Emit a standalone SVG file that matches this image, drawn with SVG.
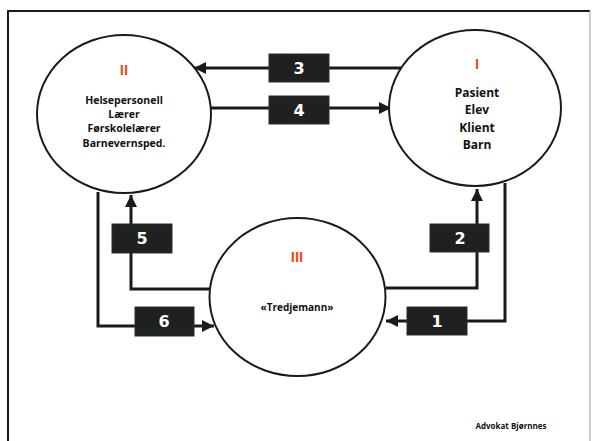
<svg xmlns="http://www.w3.org/2000/svg" width="592" height="441" viewBox="0 0 592 441">
<defs>
<style>
.circ{fill:#fff;stroke:#1a1a1a;stroke-width:2}
.con{fill:none;stroke:#1a1a1a;stroke-width:3}
.box{fill:#1f2120;stroke:#2c2e2d;stroke-width:1}
.num{font-family:"DejaVu Sans",sans-serif;font-weight:bold;font-size:16px;fill:#fff;text-anchor:middle}
.rom{font-family:"Liberation Sans",sans-serif;font-weight:bold;font-size:15px;fill:#e4531c;text-anchor:middle}
.lbl{font-family:"Open Sans",sans-serif;font-weight:bold;fill:#111;text-anchor:middle}
</style>
<marker id="ah" viewBox="0 0 10 10" refX="10" refY="5" markerWidth="4" markerHeight="4" orient="auto" markerUnits="strokeWidth">
<path d="M0,0 L10,5 L0,10 Z" fill="#1a1a1a"/>
</marker>
</defs>
<rect x="0" y="0" width="592" height="441" fill="#fff"/>
<g id="frame">
<line x1="8" y1="11" x2="590" y2="11" stroke="#1a1a1a" stroke-width="2"/>
<line x1="8" y1="10" x2="8" y2="441" stroke="#1a1a1a" stroke-width="2"/>
<line x1="590" y1="11" x2="590" y2="441" stroke="#bbb" stroke-width="1.5"/>
</g>
<g id="connectors">
<line class="con" x1="402" y1="68" x2="194" y2="68" marker-end="url(#ah)"/>
<line class="con" x1="210" y1="108" x2="391" y2="108" marker-end="url(#ah)"/>
<polyline class="con" points="210,289 131,289 131,195" marker-end="url(#ah)"/>
<polyline class="con" points="98,192 98,326 214,326" marker-end="url(#ah)"/>
<polyline class="con" points="386,288 477,288 477,189" marker-end="url(#ah)"/>
<polyline class="con" points="505,183 505,321 386,321" marker-end="url(#ah)"/>
</g>
<g id="node-II">
<ellipse class="circ" cx="124" cy="114" rx="87" ry="79"/>
<text class="rom" x="124" y="75">II</text>
<text class="lbl" font-size="10.5" x="124" y="104">Helsepersonell</text>
<text class="lbl" font-size="10.5" x="124" y="118">Lærer</text>
<text class="lbl" font-size="10.5" x="124" y="132">Førskolelærer</text>
<text class="lbl" font-size="10.5" x="124" y="147">Barnevernsped.</text>
</g>
<g id="node-I">
<ellipse class="circ" cx="475" cy="108" rx="86" ry="78"/>
<text class="rom" x="477" y="69">I</text>
<text class="lbl" font-size="12" x="477" y="97">Pasient</text>
<text class="lbl" font-size="12" x="477" y="114">Elev</text>
<text class="lbl" font-size="12" x="477" y="132">Klient</text>
<text class="lbl" font-size="12" x="477" y="149">Barn</text>
</g>
<g id="node-III">
<ellipse class="circ" cx="297.5" cy="297" rx="88" ry="79"/>
<text class="rom" x="297" y="262">III</text>
<text class="lbl" font-size="10" x="297" y="311">«Tredjemann»</text>
</g>
<g id="box-3"><rect class="box" x="269" y="54" width="60" height="28"/><text class="num" x="299" y="74">3</text></g>
<g id="box-4"><rect class="box" x="269" y="96" width="60" height="28"/><text class="num" x="299" y="116">4</text></g>
<g id="box-5"><rect class="box" x="112" y="224" width="60" height="29"/><text class="num" x="142" y="244">5</text></g>
<g id="box-6"><rect class="box" x="135" y="307" width="59" height="29"/><text class="num" x="164" y="327">6</text></g>
<g id="box-2"><rect class="box" x="430" y="224" width="59" height="28"/><text class="num" x="460" y="244">2</text></g>
<g id="box-1"><rect class="box" x="407" y="307" width="60" height="28"/><text class="num" x="437" y="327">1</text></g>
<text class="lbl" font-size="8" x="511" y="429">Advokat Bjørnnes</text>
</svg>
